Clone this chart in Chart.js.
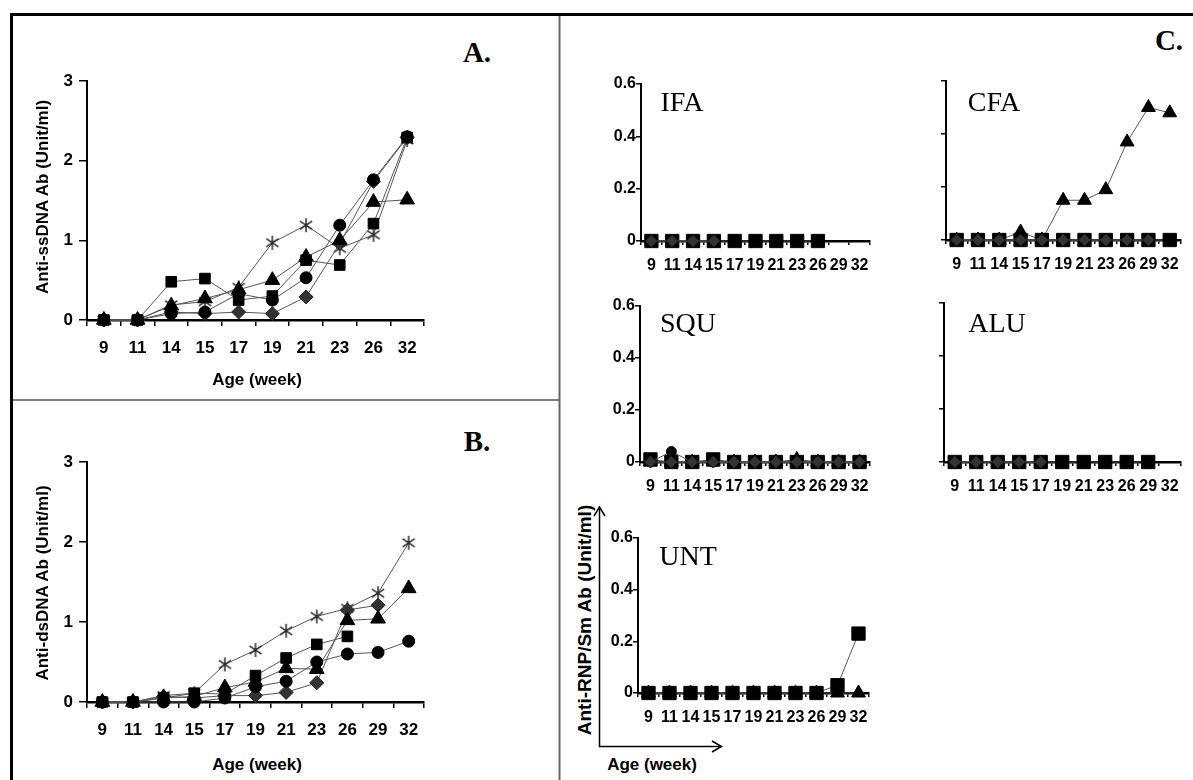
<!DOCTYPE html>
<html lang="en">
<head>
<meta charset="UTF-8">
<title>Autoantibody levels by age</title>
<script src="https://cdn.jsdelivr.net/npm/chart.js"></script>
<style>
  body { margin: 0; background: #fff; width: 1193px; height: 780px; overflow: hidden; position: relative;
         font-family: 'Liberation Sans Narrow', 'Arial Narrow', 'Liberation Sans', Arial, sans-serif; }
  canvas { position: absolute; }
  svg { position: absolute; left: 0; top: 0; }
  .lbl { position: absolute; white-space: nowrap; transform: translate(-50%, -50%); line-height: 1; }
  .panel { font-family: 'Liberation Serif', 'Times New Roman', serif; font-weight: bold; font-size: 29px; }
  .grp { font-family: 'Liberation Serif', 'Times New Roman', serif; font-size: 28px; }
  .axt { font-weight: bold; font-size: 17px; }
  .rot { transform: translate(-50%, -50%) rotate(-90deg); }
</style>
</head>
<body>
<svg width="1193" height="780">
  <line x1="10" y1="14.5" x2="1193" y2="14.5" stroke="#000" stroke-width="3"/>
  <line x1="11.5" y1="13" x2="11.5" y2="780" stroke="#000" stroke-width="3"/>
  <line x1="559.5" y1="16" x2="559.5" y2="780" stroke="#666" stroke-width="2"/>
  <line x1="13" y1="400" x2="559" y2="400" stroke="#555" stroke-width="1.5"/>
  <g stroke="#000" stroke-width="1.5" fill="none">
    <polyline points="599.5,507 599.5,746.5 721.5,746.5"/>
    <polyline points="594,516 599.5,507 605,516"/>
    <polyline points="712,741 721.5,746.5 712,752"/>
  </g>
</svg>

<canvas id="chartA"></canvas>
<canvas id="chartB"></canvas>
<canvas id="chartIFA"></canvas>
<canvas id="chartCFA"></canvas>
<canvas id="chartSQU"></canvas>
<canvas id="chartALU"></canvas>
<canvas id="chartUNT"></canvas>

<div class="lbl panel" style="left:477px; top:52px;">A.</div>
<div class="lbl panel" style="left:477px; top:441px;">B.</div>
<div class="lbl panel" style="left:1169px; top:40px;">C.</div>

<div class="lbl grp" style="left:682px; top:102px;">IFA</div>
<div class="lbl grp" style="left:994px; top:102px;">CFA</div>
<div class="lbl grp" style="left:688px; top:323px;">SQU</div>
<div class="lbl grp" style="left:997px; top:323px;">ALU</div>
<div class="lbl grp" style="left:688px; top:556px;">UNT</div>

<div class="lbl axt rot" style="left:42px; top:197px;">Anti-ssDNA Ab (Unit/ml)</div>
<div class="lbl axt" style="left:257px; top:379px;">Age (week)</div>
<div class="lbl axt rot" style="left:42px; top:583px;">Anti-dsDNA Ab (Unit/ml)</div>
<div class="lbl axt" style="left:257px; top:764px;">Age (week)</div>
<div class="lbl axt rot" style="left:584px; top:620px; font-size:19px;">Anti-RNP/Sm Ab (Unit/ml)</div>
<div class="lbl axt" style="left:652px; top:764px;">Age (week)</div>

<script>
  // age in weeks
  const weeksA = ['9', '11', '14', '15', '17', '19', '21', '23', '26', '32'];
  const weeksB = ['9', '11', '14', '15', '17', '19', '21', '23', '26', '29', '32'];
  const ticksBig = [0, 1, 2, 3];
  const ticksSmall = [0, 0.2, 0.4, 0.6];

  // A. anti-ssDNA
  const ssSquare   = [0, 0, 0.48, 0.52, 0.25, 0.30, 0.75, 0.69, 1.21, 2.29];
  const ssCircle   = [0, 0, 0.08, 0.10, 0.33, 0.25, 0.53, 1.19, 1.76, 2.30];
  const ssTriangle = [0, 0, 0.18, 0.27, 0.38, 0.50, 0.79, 1.00, 1.48, 1.51];
  const ssDiamond  = [0, 0, 0.10, 0.08, 0.10, 0.08, 0.29, 0.96, 1.74, 2.29];
  const ssStar     = [0, 0, 0.19, 0.23, 0.41, 0.97, 1.19, 0.90, 1.07, 2.26];

  // B. anti-dsDNA
  const dsSquare   = [0, 0, 0.05, 0.11, 0.10, 0.33, 0.55, 0.72, 0.82, null, null];
  const dsCircle   = [0, 0, 0.00, 0.00, 0.05, 0.19, 0.26, 0.50, 0.60, 0.62, 0.76];
  const dsTriangle = [0, 0, 0.05, 0.07, 0.18, 0.25, 0.42, 0.41, 1.02, 1.04, 1.42];
  const dsDiamond  = [0, 0, 0.07, 0.05, 0.08, 0.08, 0.12, 0.24, 1.15, 1.21, null];
  const dsStar     = [0, 0, 0.08, 0.11, 0.47, 0.65, 0.89, 1.07, 1.17, 1.36, 1.99];

  // C. anti-RNP/Sm per adjuvant
  const ifaSquare   = [0, 0, 0, 0, 0, 0, 0, 0, 0, null, null];
  const ifaDiamond  = [0, 0, 0, 0, null, null, null, null, null, null, null];
  const cfaSquare   = [0, 0, 0, 0, 0, 0, 0, 0, 0, 0, 0];
  const cfaDiamond  = [0, 0, 0, 0, 0, 0, 0, 0, 0, 0, null];
  const cfaTriangle = [0, 0, 0, 0.03, 0, 0.15, 0.15, 0.19, 0.37, 0.50, 0.48];
  const squSquare   = [0.01, 0, 0, 0.01, 0, 0, 0, 0, 0, 0, 0];
  const squCircle   = [0, 0.04, 0, 0, 0, 0, 0, 0, 0, 0, 0];
  const squTriangle = [0, 0, 0, 0, 0, 0, 0, 0.01, 0, 0, 0];
  const squDiamond  = [0, 0, 0, 0, 0, 0, 0, 0, 0, 0, 0];
  const aluSquare   = [0, 0, 0, 0, 0, 0, 0, 0, 0, 0, null];
  const aluDiamond  = [0, 0, 0, 0, 0, null, null, null, null, null, null];
  const untSquare   = [0, 0, 0, 0, 0, 0, 0, 0, 0, 0.03, 0.23];
  const untTriangle = [0, 0, 0, 0, 0, 0, 0, 0, 0, 0, 0];

  const fontFamily = "'Liberation Sans Narrow', 'Arial Narrow', 'Liberation Sans', Arial, sans-serif";
  const bigFont = { family: fontFamily, size: 17, weight: 'bold' };
  const smallFont = { family: fontFamily, size: 16, weight: 'bold' };

  // six-armed asterisk like the spreadsheet marker
  function asterisk(size) {
    const c = document.createElement('canvas');
    c.width = size; c.height = size;
    const g = c.getContext('2d');
    const m = size / 2, r = size / 2 - 1;
    g.strokeStyle = '#2a2a2a';
    g.lineWidth = 1.5;
    g.beginPath();
    g.moveTo(m, m - r); g.lineTo(m, m + r);
    g.moveTo(m - r * 0.87, m - r * 0.6); g.lineTo(m + r * 0.87, m + r * 0.6);
    g.moveTo(m + r * 0.87, m - r * 0.6); g.lineTo(m - r * 0.87, m + r * 0.6);
    g.stroke();
    return c;
  }

  const marker = {
    square:   { pointStyle: 'rect',     fill: '#000', edge: '#000' },
    circle:   { pointStyle: 'circle',   fill: '#000', edge: '#000' },
    triangle: { pointStyle: 'triangle', fill: '#000', edge: '#000' },
    diamond:  { pointStyle: 'rectRot',  fill: '#333', edge: '#222' },
    star:     { pointStyle: asterisk(16), fill: '#333', edge: '#333' }
  };

  function series(data, kind, radius, order) {
    const m = marker[kind];
    return {
      data: data,
      order: order,
      pointStyle: m.pointStyle,
      pointRadius: radius,
      pointBackgroundColor: m.fill,
      pointBorderColor: m.edge,
      pointBorderWidth: 1,
      borderColor: '#555',
      borderWidth: 1,
      tension: 0,
      clip: false
    };
  }

  // area = plot rectangle on the page, box = canvas rectangle on the page
  function panel(id, labels, datasets, area, box, yMax, ySteps, opt) {
    const cv = document.getElementById(id);
    cv.width = box.w; cv.height = box.h;
    cv.style.left = box.x + 'px'; cv.style.top = box.y + 'px';
    const yW = area.l - box.x;
    const xH = box.y + box.h - area.b;
    return new Chart(cv, {
      type: 'line',
      data: { labels: labels, datasets: datasets },
      options: {
        responsive: false,
        animation: false,
        events: [],
        layout: { autoPadding: false, padding: { left: 0, bottom: 0, top: area.t - box.y, right: box.x + box.w - area.r } },
        plugins: { legend: { display: false }, tooltip: { enabled: false } },
        scales: {
          x: {
            offset: true,
            grid: { offset: true, drawOnChartArea: false, tickLength: opt.xTick, color: '#000', lineWidth: 1.5 },
            border: { color: '#000', width: 2.5 },
            ticks: { color: '#000', font: opt.font, padding: opt.xPad, maxRotation: 0, autoSkip: false },
            afterFit: s => { s.height = xH; }
          },
          y: {
            min: 0, max: yMax,
            afterBuildTicks: s => { s.ticks = ySteps.map(v => ({ value: v })); },
            grid: { drawOnChartArea: false, tickLength: opt.yTick, color: '#000', lineWidth: 1.5 },
            border: { color: '#000', width: 2 },
            ticks: { display: opt.yLabels, color: '#000', font: opt.font, padding: opt.yPad },
            afterFit: s => { s.width = yW; }
          }
        }
      }
    });
  }

  const big = { font: bigFont, xTick: 6, xPad: 12, yTick: 8, yPad: 6, yLabels: true };

  panel('chartA', weeksA, [
    series(ssDiamond, 'diamond', 7, 3),
    series(ssStar, 'star', 8, 4),
    series(ssSquare, 'square', 7.5, 0),
    series(ssCircle, 'circle', 6, 1),
    series(ssTriangle, 'triangle', 8.5, 2)
  ], { l: 87, r: 424, t: 81, b: 320 }, { x: 40, y: 60, w: 400, h: 312 }, 3, ticksBig, big);

  panel('chartB', weeksB, [
    series(dsDiamond, 'diamond', 7, 3),
    series(dsStar, 'star', 8, 4),
    series(dsSquare, 'square', 7.5, 0),
    series(dsCircle, 'circle', 6, 1),
    series(dsTriangle, 'triangle', 8.5, 2)
  ], { l: 87, r: 424, t: 462, b: 702 }, { x: 40, y: 440, w: 400, h: 314 }, 3, ticksBig, big);

  const smallL = { font: smallFont, xTick: 4, xPad: 11, yTick: 5, yPad: 0, yLabels: true };
  const smallN = { font: smallFont, xTick: 4, xPad: 11, yTick: 5, yPad: 0, yLabels: false };

  panel('chartIFA', weeksB, [
    series(ifaDiamond, 'diamond', 6, 0),
    series(ifaSquare, 'square', 9.4, 1)
  ], { l: 641, r: 870, t: 84, b: 241 }, { x: 595, y: 66, w: 285, h: 210 }, 0.6, ticksSmall, smallL);

  panel('chartCFA', weeksB, [
    series(cfaDiamond, 'diamond', 6, 0),
    series(cfaSquare, 'square', 9.4, 1),
    series(cfaTriangle, 'triangle', 8, 2)
  ], { l: 946, r: 1182, t: 81, b: 240 }, { x: 900, y: 66, w: 290, h: 210 }, 0.6, ticksSmall, smallN);

  panel('chartSQU', weeksB, [
    series(squDiamond, 'diamond', 6, 0),
    series(squCircle, 'circle', 5, 1),
    series(squSquare, 'square', 9.4, 2),
    series(squTriangle, 'triangle', 8, 3)
  ], { l: 640, r: 870, t: 306, b: 462 }, { x: 595, y: 290, w: 285, h: 208 }, 0.6, ticksSmall, smallL);

  panel('chartALU', weeksB, [
    series(aluDiamond, 'diamond', 6, 0),
    series(aluSquare, 'square', 9.4, 1)
  ], { l: 944, r: 1181, t: 303, b: 462 }, { x: 900, y: 290, w: 290, h: 208 }, 0.6, ticksSmall, smallN);

  panel('chartUNT', weeksB, [
    series(untSquare, 'square', 9.4, 0),
    series(untTriangle, 'triangle', 8, 1)
  ], { l: 638, r: 869, t: 538, b: 693 }, { x: 605, y: 520, w: 275, h: 215 }, 0.6, ticksSmall, smallL);
</script>
</body>
</html>
